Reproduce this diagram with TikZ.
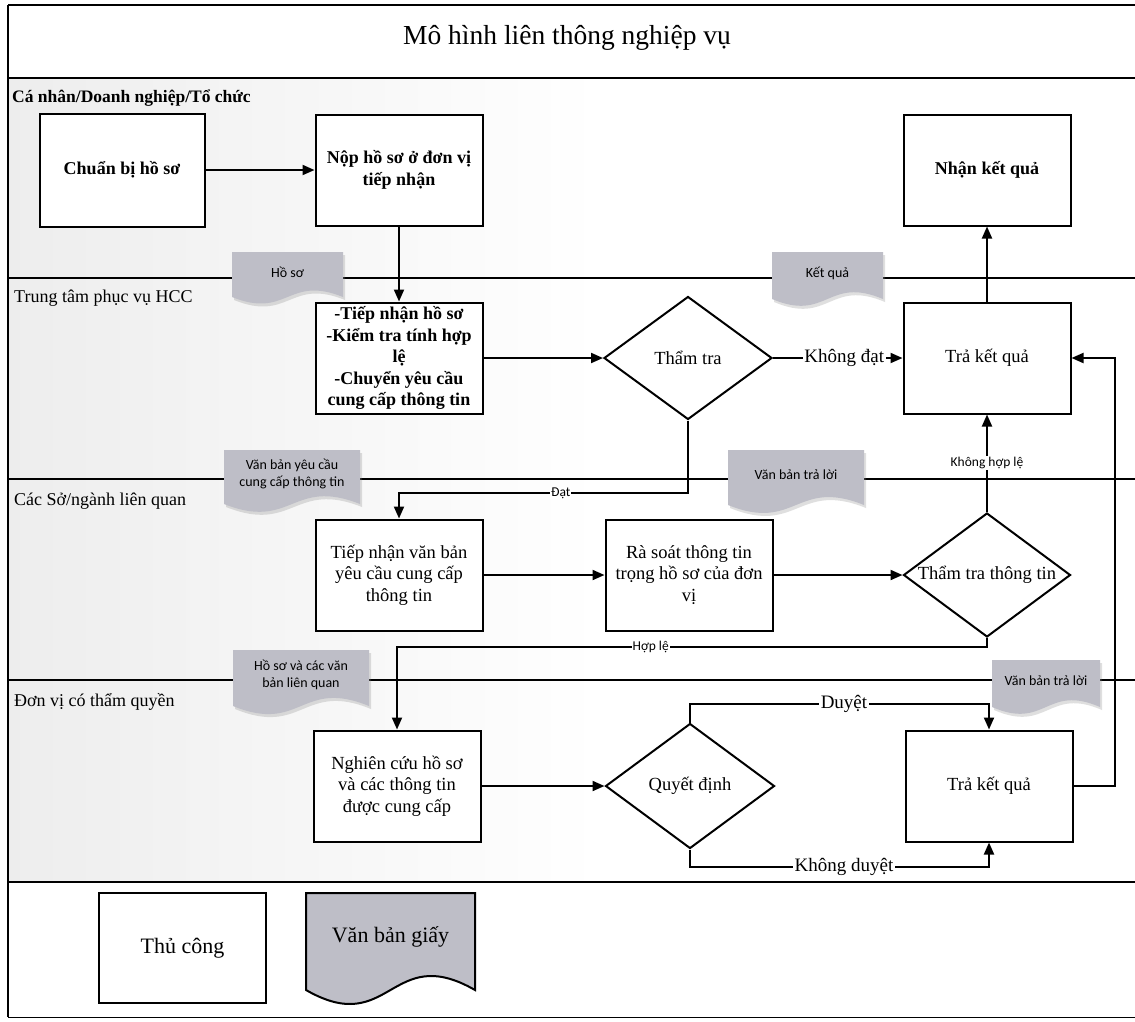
\documentclass[tikz,border=0pt]{standalone}
\usepackage{fontspec}
\setmainfont{Liberation Serif}
\newfontfamily\docfont{Carlito}
\usetikzlibrary{arrows.meta,shapes.geometric,shadows}
\definecolor{docgray}{RGB}{190,190,199}
% #1 name, #2 x, #3 y (top-left), #4 width, #5 height to corners, #6 shape style, #7 label style, #8 text
\newcommand{\wavedoc}[8]{%
  \begin{scope}[shift={(#2,#3)}, x=#4pt, y=-#5pt]
    \path[#6] (0,0) -- (1,0) -- (1,1) .. controls (0.5,0.5) and (0.5,1.5) .. (0,1) -- cycle;
    \node[#7] (#1) at (0.5,0.45) {#8};
  \end{scope}}
\begin{document}
\begin{tikzpicture}[x=1pt,y=-1pt,
  pbox/.style={draw, line width=2pt, fill=white, minimum width=167pt, minimum height=111pt,
     align=center, inner sep=2pt, font=\fontsize{18.5}{21.5}\selectfont},
  pboxb/.style={pbox, font=\bfseries\fontsize{18}{21.5}\selectfont},
  dia/.style={draw, diamond, line width=2pt, fill=white, inner sep=0pt},
  diatext/.style={font=\fontsize{18.5}{22}\selectfont},
  arr/.style={line width=2pt, -{Triangle[length=12pt,width=10pt]}},
  lbl/.style={fill=white, inner sep=1.5pt, font=\fontsize{19}{22}\selectfont},
  slbl/.style={fill=white, inner sep=1pt, font=\docfont\fontsize{13.5}{15}\selectfont},
  lane/.style={line width=2.2pt},
  lanelbl/.style={anchor=west, inner sep=0pt, font=\fontsize{18}{22}\selectfont},
  docshape/.style={fill=docgray, drop shadow={opacity=0.25, shadow xshift=2pt, shadow yshift=-3pt}},
  legshape/.style={fill=docgray, draw, line width=2pt},
  doclabel/.style={align=center, inner sep=0pt, font=\docfont\fontsize{14}{17}\selectfont},
  leglabel/.style={align=center, inner sep=0pt, font=\fontsize{22}{26}\selectfont}]
\useasboundingbox (0,0) rectangle (1135,1021);
\fill[white] (0,0) rectangle (1135,1021);
% faint scan shading of the lanes
\foreach \a/\b in {78/278, 278/479, 479/680, 680/882}{
  \shade[left color=black!7, right color=white] (8,\a) rectangle (600,\b);
}
% frame and lanes
\draw[lane] (8,5) -- (1135,5);
\draw[lane] (8,5) -- (8,1017);
\draw[line width=1pt] (8,1017) -- (1135,1017);
\foreach \yy in {78,278,479,680,882}{ \draw[lane] (8,\yy) -- (1135,\yy); }
% title and lane labels
\node[font=\fontsize{27.5}{32}\selectfont] (title) at (567,38) {Mô hình liên thông nghiệp vụ};
\node[lanelbl, font=\bfseries\fontsize{17.5}{20}\selectfont] (l1) at (12,98) {Cá nhân/Doanh nghiệp/Tổ chức};
\node[lanelbl] (l2) at (14,298) {Trung tâm phục vụ HCC};
\node[lanelbl] (l3) at (14,501) {Các Sở/ngành liên quan};
\node[lanelbl] (l4) at (14,702) {Đơn vị có thẩm quyền};
% documents
\wavedoc{d1}{232}{252}{111}{45}{docshape}{doclabel}{Hồ sơ}
\wavedoc{d2}{772}{252}{111}{47}{docshape}{doclabel}{Kết quả}
\wavedoc{d3}{224}{450}{136}{54}{docshape}{doclabel}{Văn bản yêu cầu\\cung cấp thông tin}
\wavedoc{d4}{728}{450}{136}{55}{docshape}{doclabel}{Văn bản trả lời}
\wavedoc{d5}{233}{650}{136}{56}{docshape}{doclabel}{Hồ sơ và các văn\\bản liên quan}
\wavedoc{d6}{992}{660}{108}{47}{docshape}{doclabel}{Văn bản trả lời}
% process boxes
\node[pboxb, minimum width=165pt, minimum height=113pt] (cb) at (122,170) {Chuẩn bị hồ sơ};
\node[pboxb] (np) at (399,170) {Nộp hồ sơ ở đơn vị\\tiếp nhận};
\node[pboxb] (nkq) at (987,170) {Nhận kết quả};
\node[pboxb] (tn) at (399,358) {-Tiếp nhận hồ sơ\\-Kiểm tra tính hợp\\lệ\\-Chuyển yêu cầu\\cung cấp thông tin};
\node[pbox] (tkq1) at (987,358) {Trả kết quả};
\node[pbox] (tnvb) at (399,575) {Tiếp nhận văn bản\\yêu cầu cung cấp\\thông tin};
\node[pbox] (rs) at (689,575) {Rà soát thông tin\\trọng hồ sơ của đơn\\vị};
\node[pbox] (ncs) at (397,786) {Nghiên cứu hồ sơ\\và các thông tin\\được cung cấp};
\node[pbox] (tkq2) at (989,786) {Trả kết quả};
% decisions
\node[dia, minimum width=168pt, minimum height=123pt] (tt) at (688,358) {};
\node[diatext] (ttt) at (tt) {Thẩm tra};
\node[dia, minimum width=167pt, minimum height=124pt] (tt2) at (987,575) {};
\node[diatext] (tt2t) at (tt2) {Thẩm tra thông tin};
\node[dia, minimum width=169pt, minimum height=125pt] (qd) at (690,786) {};
\node[diatext] (qdt) at (qd) {Quyết định};
% legend
\node[pbox, minimum width=167pt, minimum height=110pt, font=\fontsize{22}{26}\selectfont] (leg1) at (182.5,948) {Thủ công};
\wavedoc{leg2}{306}{893}{169}{97}{legshape}{leglabel}{Văn bản giấy}
% connectors
\coordinate (yDat) at (0,493);
\coordinate (yHL) at (0,647);
\coordinate (yDuyet) at (0,704);
\coordinate (yKD) at (0,867);
\coordinate (xR) at (1115,0);
\draw[arr] (cb.east) -- (np.west);
\draw[arr] (np.south) -- (tn.north);
\draw[arr] (tn.east) -- (tt.west);
\draw[arr] (tt.east) -- node[lbl, pos=0.55] {Không đạt} (tkq1.west);
\draw[arr] (tt.south) -- (tt.south |- yDat) -- node[slbl, pos=0.44] {Đạt} (tnvb.north |- yDat) -- (tnvb.north);
\draw[arr] (tnvb.east) -- (rs.west);
\draw[arr] (rs.east) -- (tt2.west);
\draw[arr] (tt2.north) -- node[slbl, pos=0.5] {Không hợp lệ} (tkq1.south);
\draw[arr] (tkq1.north) -- (nkq.south);
\draw[arr] (tt2.south) -- (tt2.south |- yHL) -- node[slbl, pos=0.57] {Hợp lệ} (ncs.north |- yHL) -- (ncs.north);
\draw[arr] (ncs.east) -- (qd.west);
\draw[arr] (qd.north) -- (qd.north |- yDuyet) -- node[lbl, pos=0.515] {Duyệt} (tkq2.north |- yDuyet) -- (tkq2.north);
\draw[arr] (qd.south) -- (qd.south |- yKD) -- node[lbl, pos=0.515] {Không duyệt} (tkq2.south |- yKD) -- (tkq2.south);
\draw[arr] (tkq2.east) -- (tkq2.east -| xR) -- (tkq1.east -| xR) -- (tkq1.east);
\end{tikzpicture}
\end{document}
